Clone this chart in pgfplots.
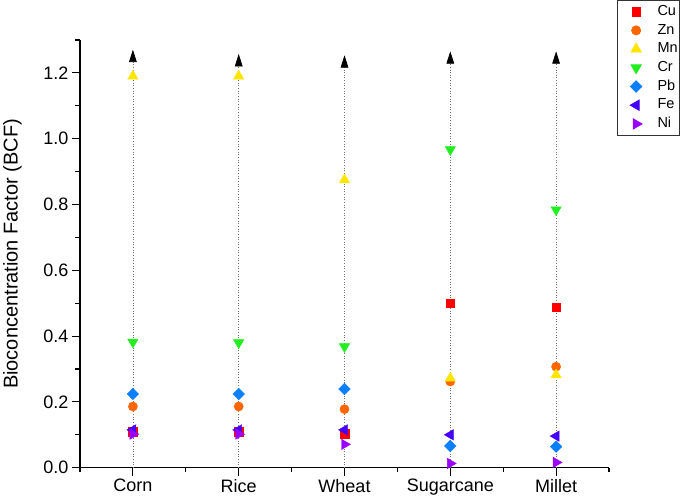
\documentclass[border=0pt]{standalone}
\usepackage{fontspec}
\setmainfont{Liberation Sans}
\usepackage{pgfplots}
\pgfplotsset{compat=1.18}
\usepackage{pgfplotstable}

\definecolor{cCu}{HTML}{FF0000}
\definecolor{cZn}{HTML}{FF6600}
\definecolor{cMn}{HTML}{FFE600}
\definecolor{cCr}{HTML}{22EE22}
\definecolor{cPb}{HTML}{0A7FFF}
\definecolor{cFe}{HTML}{4400FF}
\definecolor{cNi}{HTML}{9900FF}

\pgfplotstableread{
x Cu Zn Mn Cr Pb Fe Ni Top
0 0.109 0.186 1.190 0.382 0.224 0.115 0.102 1.245
1 0.109 0.186 1.190 0.380 0.224 0.115 0.102 1.232
2 0.103 0.178 0.875 0.368 0.239 0.115 0.071 1.228
3 0.500 0.262 0.272 0.967 0.066 0.100 0.013 1.240
4 0.488 0.307 0.282 0.784 0.064 0.096 0.016 1.240
}\data

\newcommand{\lf}{\fontsize{14.5}{16}\selectfont}

\pgfplotsset{mk/.style={only marks,
  legend image code/.code={\path (0pt,0pt) (37pt,0pt); \draw[##1] plot coordinates {(17pt,0pt)};}}}

\begin{document}
\begin{tikzpicture}
\path[use as bounding box] (-80pt,-33.3pt) rectangle (605pt,467.7pt);
\begin{axis}[
  at={(0pt,0pt)}, anchor=south west, scale only axis,
  width=529pt, height=427.7pt,
  xmin=-0.5, xmax=4.5, ymin=0, ymax=1.3,
  axis x line*=bottom, axis y line*=left,
  axis line style={line width=1.3pt, black},
  xtick={0,1,2,3,4}, xticklabels={Corn,Rice,Wheat,Sugarcane,Millet},
  minor xtick={-0.5,0.5,1.5,2.5,3.5,4.5},
  ytick={0,0.2,0.4,0.6,0.8,1.0,1.2},
  minor ytick={0.1,0.3,0.5,0.7,0.9,1.1,1.3},
  tick align=outside, major tick length=8pt, minor tick length=4.5pt,
  every tick/.style={black, line width=1.1pt},
  tick label style={font=\fontsize{18}{20}\selectfont},
  yticklabel style={/pgf/number format/.cd, fixed, fixed zerofill, precision=1, /tikz/.cd},
  /pgf/number format/assume math mode=true,
  ylabel={Bioconcentration Factor (BCF)},
  ylabel style={font=\fontsize{20}{24}\selectfont, at={(axis description cs:-0.1456,0.5)}, anchor=north, inner sep=0pt},
  clip=false,
  legend style={at={(axis description cs:1.1342,1.0935)}, anchor=north east,
    draw=black!80, line width=0.7pt,
    inner xsep=1pt, inner ysep=2pt, row sep=0pt,
    nodes={text height=10.5pt, text depth=3pt, inner ysep=2.6pt, inner xsep=1pt},
    cells={anchor=west}},
]
\addplot[mk, mark=square*, mark size=4.3pt, color=cCu] table[x=x,y=Cu]{\data};
\addlegendentry{\lf Cu}
\addplot[mk, mark=*, mark size=4.6pt, color=cZn] table[x=x,y=Zn]{\data};
\addlegendentry{\lf Zn}
\addplot[mk, mark=triangle*, mark size=6pt, color=cMn] table[x=x,y=Mn]{\data};
\addlegendentry{\lf Mn}
\addplot[mk, mark=triangle*, mark size=6pt, mark options={rotate=180}, color=cCr] table[x=x,y=Cr]{\data};
\addlegendentry{\lf Cr}
\addplot[mk, mark=square*, mark size=4.1pt, mark options={rotate=45}, color=cPb] table[x=x,y=Pb]{\data};
\addlegendentry{\lf Pb}
\addplot[mk, mark=triangle*, mark size=6pt, mark options={rotate=90}, color=cFe] table[x=x,y=Fe]{\data};
\addlegendentry{\lf Fe}
\addplot[mk, mark=triangle*, mark size=6pt, mark options={rotate=-90}, color=cNi] table[x=x,y=Ni]{\data};
\addlegendentry{\lf Ni}
\addplot[ycomb, dotted, line width=0.65pt, color=black!55, mark=triangle*, mark size=7.3pt,
  mark options={solid, xscale=0.55, fill=black, draw=black}, forget plot] table[x=x,y=Top]{\data};
\end{axis}
\end{tikzpicture}
\end{document}
